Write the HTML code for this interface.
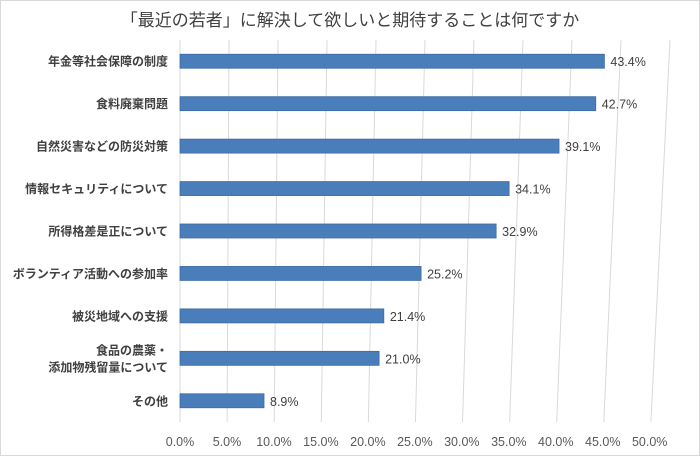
<!DOCTYPE html>
<html><head><meta charset="utf-8"><style>
body{margin:0;background:#fff}
svg{display:block}
text{font-family:"Liberation Sans","Noto Sans CJK JP",sans-serif}
</style></head><body>
<svg id="chart" width="700" height="456">
<rect x="0.5" y="0.5" width="699" height="455" fill="#fff" stroke="#d9d9d9"/>
<text x="350" y="26" text-anchor="middle" font-size="17" fill="#404040">「最近の若者」に解決して欲しいと期待することは何ですか</text>
<g id="grid"></g><g id="bars"></g><g id="labels"></g>
</svg>
<script>
const categories=["年金等社会保障の制度","食料廃棄問題","自然災害などの防災対策","情報セキュリティについて","所得格差是正について","ボランティア活動への参加率","被災地域への支援","食品の農薬・\n添加物残留量について","その他"];
const values=[43.4,42.7,39.1,34.1,32.9,25.2,21.4,21.0,8.9];
const ticks=[0,5,10,15,20,25,30,35,40,45,50];
const NS="http://www.w3.org/2000/svg";
const x0=180,plotTop=40,plotBottom=422;
const k=y=>9.8-0.001*(y-40);
const xs=(v,y)=>x0+v*k(y);
const step=(plotBottom-plotTop)/categories.length;
const yc=i=>plotTop+step*(i+0.5);
function mk(t,a,p){const e=document.createElementNS(NS,t);for(const kk in a)e.setAttribute(kk,a[kk]);p.appendChild(e);return e;}
const g=document.getElementById('grid'),b=document.getElementById('bars'),l=document.getElementById('labels');
ticks.forEach(t=>{
 const ln=mk('line',{x1:xs(t,plotTop),x2:xs(t,plotBottom),y1:plotTop,y2:plotBottom,stroke:'#d9d9d9','stroke-width':1},g);
 
 
 const tx=mk('text',{x:xs(t,446),y:446,'text-anchor':'middle','font-size':12.5,fill:'#595959'},l);
 tx.textContent=t.toFixed(1)+'%';
 
 
});
categories.forEach((c,i)=>{
 const y=yc(i);
 const r=mk('rect',{x:x0,y:y-7,width:xs(values[i],y)-x0,height:14,fill:'#4a7ebb',stroke:'#3d6ca5','stroke-width':0.8},b);
 
 
 const v=mk('text',{x:xs(values[i],y)+6,y:y+5,'font-size':12.5,fill:'#404040'},l);
 v.textContent=values[i].toFixed(1)+'%';
 
 
 const lines=c.split('\n');
 lines.forEach((s,j)=>{
  const t=mk('text',{x:168,y:y+4.5+(j-(lines.length-1)/2)*17,'text-anchor':'end','font-size':12,'font-weight':'bold',fill:'#404040'},l);
  t.textContent=s;
  
  
 });
});
</script>
</body></html>
